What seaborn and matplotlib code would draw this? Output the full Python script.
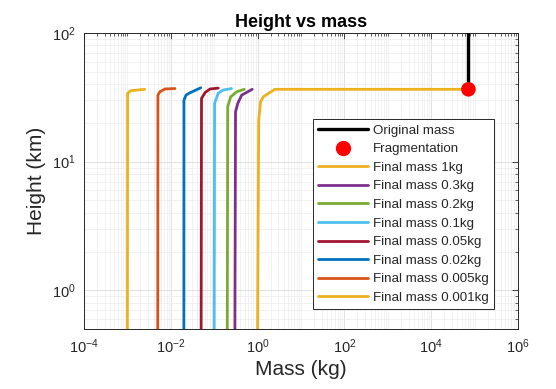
import matplotlib
matplotlib.use("Agg")
import matplotlib.pyplot as plt
import numpy as np
import pandas as pd
import seaborn as sns
from matplotlib.lines import Line2D
from matplotlib.ticker import LogLocator, LogFormatterMathtext, NullFormatter, FixedLocator

# Parent body: mass before break-up, from entry down to the fragmentation height
original_mass = [7.2e4, 7.2e4]
original_height = [36.5, 120.0]

# Fragmentation event
frag_mass = [7.2e4]
frag_height = [36.5]

# Fragment trajectories (mass in kg, height in km), one pair of lists per final mass
mass_1kg = [7.2e4, 2.5, 1.35, 1.17, 1.06, 1.0]
height_1kg = [36.5, 36.5, 31.9, 29.2, 21.0, 0.5]

mass_03kg = [0.75, 0.43, 0.35, 0.31, 0.30]
height_03kg = [36.5, 32.9, 28.4, 24.4, 0.5]

mass_02kg = [0.49, 0.33, 0.24, 0.205, 0.20]
height_02kg = [36.5, 34.9, 31.9, 26.8, 0.5]

mass_01kg = [0.25, 0.16, 0.124, 0.102, 0.10]
height_01kg = [37.0, 36.0, 34.0, 28.4, 0.5]

mass_005kg = [0.124, 0.08, 0.062, 0.051, 0.05]
height_005kg = [37.3, 36.7, 34.5, 31.0, 0.5]

mass_002kg = [0.049, 0.0277, 0.0224, 0.0201, 0.02]
height_002kg = [37.5, 34.3, 32.9, 30.1, 0.5]

mass_0005kg = [0.0125, 0.0073, 0.0056, 0.00505, 0.005]
height_0005kg = [37.0, 36.7, 34.9, 32.9, 0.5]

mass_0001kg = [0.0025, 0.0012, 0.00101, 0.001]
height_0001kg = [36.5, 35.6, 34.0, 0.5]

labels = ["Final mass 1kg", "Final mass 0.3kg", "Final mass 0.2kg",
          "Final mass 0.1kg", "Final mass 0.05kg", "Final mass 0.02kg",
          "Final mass 0.005kg", "Final mass 0.001kg"]
masses = [mass_1kg, mass_03kg, mass_02kg, mass_01kg, mass_005kg,
          mass_002kg, mass_0005kg, mass_0001kg]
heights = [height_1kg, height_03kg, height_02kg, height_01kg, height_005kg,
           height_002kg, height_0005kg, height_0001kg]
colors = ["#EDB120", "#7E2F8E", "#77AC30", "#4DBEEE", "#A2142F",
          "#0072BD", "#D95319", "#EDB120"]

x_ticks = [1e-4, 1e-2, 1e0, 1e2, 1e4, 1e6]
y_ticks = [1e0, 1e1, 1e2]

sns.set_style("white")
plt.rcParams["font.family"] = ["Liberation Sans", "DejaVu Sans"]
plt.rcParams["mathtext.default"] = "regular"

df = pd.concat(
    [pd.DataFrame({"mass": m, "height": h, "series": lab})
     for m, h, lab in zip(masses, heights, labels)],
    ignore_index=True,
)

fig = plt.figure(figsize=(5.56, 3.89), dpi=100)
ax = fig.add_axes([84 / 556, 1 - 329 / 389, 434 / 556, 296 / 389])
ax.set_xscale("log")
ax.set_yscale("log")

axis_col = "#262626"

sns.lineplot(x=original_mass, y=original_height, color="black", lw=2.4,
             sort=False, estimator=None, ax=ax, zorder=3)
sns.lineplot(data=df, x="mass", y="height", hue="series", hue_order=labels,
             palette=dict(zip(labels, colors)), sort=False, estimator=None,
             lw=2.0, legend=False, ax=ax, zorder=3)
sns.scatterplot(x=frag_mass, y=frag_height, color="#FF0000", s=110,
                edgecolor="none", ax=ax, zorder=5)

ax.set_xlim(1e-4, 1e6)
ax.set_ylim(0.5, 100)

ax.xaxis.set_major_locator(FixedLocator(x_ticks))
ax.xaxis.set_major_formatter(LogFormatterMathtext())
ax.xaxis.set_minor_locator(LogLocator(base=10.0, subs=np.arange(1, 10), numticks=40))
ax.xaxis.set_minor_formatter(NullFormatter())
ax.yaxis.set_major_locator(FixedLocator(y_ticks))
ax.yaxis.set_major_formatter(LogFormatterMathtext())
ax.yaxis.set_minor_locator(LogLocator(base=10.0, subs=np.arange(2, 10), numticks=40))
ax.yaxis.set_minor_formatter(NullFormatter())

ax.grid(True, which="major", color="#dcdcdc", lw=0.6)
ax.grid(True, which="minor", color="#ececec", lw=0.5)
ax.set_axisbelow(True)

ax.tick_params(which="both", direction="in", top=True, right=True,
               color=axis_col, labelcolor=axis_col, labelsize=10.5)
ax.tick_params(which="major", length=4, width=0.6, pad=6)
ax.tick_params(which="minor", length=2, width=0.5)
for sp in ax.spines.values():
    sp.set_color(axis_col)
    sp.set_linewidth(0.7)

ax.set_xlabel("Mass (kg)", fontsize=15, color=axis_col, labelpad=3)
ax.set_ylabel("Height (km)", fontsize=15, color=axis_col, labelpad=4)
ax.set_title("Height vs mass", fontsize=13, fontweight="bold", color="black", pad=4)

handles = [
    Line2D([], [], color="black", lw=2.4),
    Line2D([], [], color="#FF0000", marker="o", ls="none", markersize=10),
] + [Line2D([], [], color=c, lw=2.0) for c in colors]
leg_labels = ["Original mass", "Fragmentation"] + labels
leg = ax.legend(handles, leg_labels, loc="upper right",
                bbox_to_anchor=((494 - 84) / 434, (329 - 119) / 296),
                borderaxespad=0, fontsize=9.6, frameon=True, fancybox=False,
                framealpha=1, edgecolor=axis_col, handlelength=3.7,
                handletextpad=0.4, labelspacing=0.47, borderpad=0.4)
leg.get_frame().set_linewidth(0.7)
for t in leg.get_texts():
    t.set_color(axis_col)

fig.savefig("out.png", dpi=100)
